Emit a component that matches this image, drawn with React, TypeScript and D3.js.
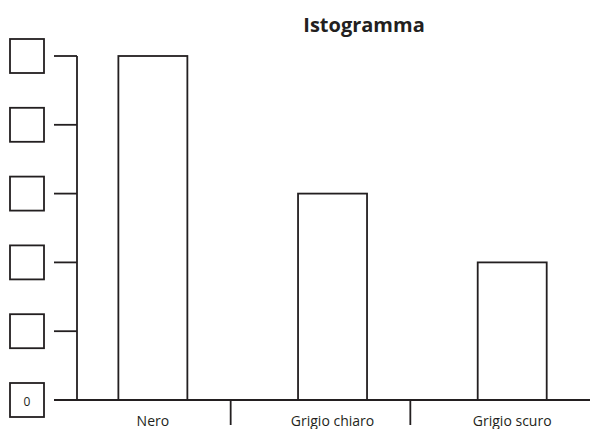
import React from 'react';
import * as d3 from 'd3';

const categories = ['Nero', 'Grigio chiaro', 'Grigio scuro'];
const values = [5, 3, 2];
const yTicks = [0, 1, 2, 3, 4, 5];
const yTickLabels = ['0', '', '', '', '', ''];
const title = 'Istogramma';

const W = 590;
const H = 429;
const ink = '#231f20';

export default function App() {
  const axisX = 77;
  const baseY = 400;

  const y = d3.scaleLinear().domain([0, 5]).range([baseY, 56]);

  const x = d3.scaleBand<string>()
    .domain(categories)
    .range([51, W])
    .paddingInner(0)
    .paddingOuter(0);

  const step = x.step();
  const barOffset = step * 0.375;
  const barW = step * 0.384;

  const font = '"Open Sans", "Noto Sans", sans-serif';

  return (
    <svg
      width={W}
      height={H}
      style={{ position: 'absolute', left: 0, top: 0, background: '#fff' }}
      fontFamily={font}
    >
      {/* title */}
      <text x={364} y={32} textAnchor="middle" fontWeight="bold" fontSize={20} fill={ink}>
        {title}
      </text>

      {/* bars */}
      {categories.map((c, i) => (
        <rect
          key={c}
          x={(x(c) ?? 0) + barOffset}
          y={y(values[i])}
          width={barW}
          height={baseY - y(values[i])}
          fill="#fff"
          stroke={ink}
          strokeWidth={1.8}
        />
      ))}

      {/* y axis */}
      <line x1={axisX} x2={axisX} y1={y(5)} y2={baseY} stroke={ink} strokeWidth={1.8} />
      {yTicks.map((t, i) => (
        <g key={t}>
          <line x1={54} x2={axisX} y1={y(t)} y2={y(t)} stroke={ink} strokeWidth={1.8} />
          <rect
            x={10}
            y={y(t) - 17}
            width={34}
            height={34}
            fill="#fff"
            stroke={ink}
            strokeWidth={1.8}
          />
          <text x={27} y={y(t) + 1} textAnchor="middle" dominantBaseline="central" fontSize={12} fill={ink}>
            {yTickLabels[i]}
          </text>
        </g>
      ))}

      {/* x axis */}
      <line x1={54} x2={W} y1={baseY} y2={baseY} stroke={ink} strokeWidth={1.8} />
      {categories.slice(1).map((c) => (
        <line key={c} x1={x(c) ?? 0} x2={x(c) ?? 0} y1={baseY} y2={425} stroke={ink} strokeWidth={1.8} />
      ))}
      {categories.map((c) => (
        <text
          key={c}
          x={(x(c) ?? 0) + barOffset + barW / 2}
          y={426}
          textAnchor="middle"
          fontSize={14}
          fill={ink}
        >
          {c}
        </text>
      ))}
    </svg>
  );
}
